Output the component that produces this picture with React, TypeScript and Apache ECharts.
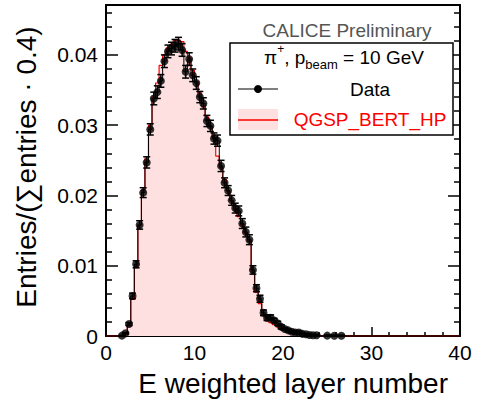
import React, { useEffect, useRef } from "react";
import * as echarts from "echarts";

// Histogram bin centres (bin width 0.4)
const binCenters = [
  1.8, 2.2, 2.6, 3.0, 3.4, 3.8, 4.2, 4.6, 5.0, 5.4, 5.8, 6.2, 6.6, 7.0, 7.4, 7.8,
  8.2, 8.6, 9.0, 9.4, 9.8, 10.2, 10.6, 11.0, 11.4, 11.8, 12.2, 12.6, 13.0, 13.4, 13.8, 14.2,
  14.6, 15.0, 15.4, 15.8, 16.2, 16.6, 17.0, 17.4, 17.8, 18.2, 18.6, 19.0, 19.4, 19.8, 20.2, 20.6,
  21.0, 21.4, 21.8, 22.2, 22.6, 23.0, 23.4, 23.8, 24.2, 24.6, 25.0, 25.4, 25.8, 26.2, 26.6, 27.0,
];
const binWidth = 0.4;

// Data (black points)
const dataValues = [
  0.00005, 0.0004, 0.0017, 0.0057, 0.0102, 0.0158, 0.0204, 0.0247, 0.0294, 0.0338, 0.0347, 0.0363, 0.0391, 0.0405, 0.0409, 0.0413,
  0.0416, 0.0407, 0.0376, 0.0394, 0.0371, 0.036, 0.034, 0.0331, 0.0306, 0.0299, 0.0281, 0.0278, 0.0242, 0.0218, 0.0207, 0.0193,
  0.0182, 0.0178, 0.016, 0.0148, 0.0137, 0.0094, 0.0068, 0.0053, 0.0033, 0.0026, 0.0026, 0.0022, 0.0018, 0.0013, 0.001, 0.0008,
  0.0006, 0.0005, 0.0005, 0.0003, 0.00025, 0.00015, 0.0001, 0.0001, 0, 0, 0.00005, 0, 0.00004, 0, 0.00003, 0,
];
const dataErrors = [
  0.00005, 0.0001, 0.0002, 0.0004, 0.0005, 0.0006, 0.0007, 0.0008, 0.0008, 0.0009, 0.0009, 0.0009, 0.0009, 0.0009, 0.0009, 0.0009,
  0.0009, 0.0009, 0.0009, 0.0009, 0.0009, 0.0009, 0.0008, 0.0008, 0.0008, 0.0008, 0.0008, 0.0008, 0.0008, 0.0007, 0.0007, 0.0007,
  0.0007, 0.0007, 0.0007, 0.0007, 0.0007, 0.0006, 0.0005, 0.0005, 0.0004, 0.0004, 0.0004, 0.0003, 0.0003, 0.0003, 0.0002, 0.0002,
  0.0002, 0.0002, 0.0002, 0.0001, 0.0001, 0.0001, 0.0001, 0.0001, 0, 0, 0.0001, 0, 0.0001, 0, 0.0001, 0,
];

// Simulation QGSP_BERT_HP (red histogram)
const mcValues = [
  0.00003, 0.0003, 0.0014, 0.0052, 0.0098, 0.0158, 0.0208, 0.0253, 0.03, 0.034, 0.036, 0.0385, 0.04, 0.041, 0.0415, 0.0421,
  0.0421, 0.0419, 0.0405, 0.0396, 0.0378, 0.0362, 0.0346, 0.0326, 0.0312, 0.0298, 0.0283, 0.0256, 0.024, 0.0223, 0.0206, 0.0192,
  0.0179, 0.017, 0.0158, 0.0146, 0.0135, 0.009, 0.0062, 0.0046, 0.003, 0.0022, 0.0019, 0.0016, 0.0013, 0.001, 0.0008, 0.0006,
  0.0004, 0.0003, 0.0003, 0.0002, 0.0001, 0.0001, 0.00005, 0.00003, 0, 0, 0, 0, 0, 0, 0, 0,
];

const xMin = 0;
const xMax = 40;
const xInterval = 10;
const yMin = 0;
const yMax = 0.0471;
const yInterval = 0.01;

const FONT = "'Liberation Sans', Arial, Helvetica, sans-serif";

function stepPoints(values: number[]): number[][] {
  const pts: number[][] = [[xMin, 0]];
  const firstLo = binCenters[0] - binWidth / 2;
  pts.push([firstLo, 0]);
  values.forEach((v, i) => {
    const lo = binCenters[i] - binWidth / 2;
    const hi = binCenters[i] + binWidth / 2;
    pts.push([lo, v], [hi, v]);
  });
  const lastHi = binCenters[binCenters.length - 1] + binWidth / 2;
  pts.push([lastHi, 0], [xMax, 0]);
  return pts;
}

export default function App() {
  const ref = useRef<HTMLDivElement>(null);

  useEffect(() => {
    if (!ref.current) return;
    const chart = echarts.init(ref.current, undefined, { renderer: "svg" });

    const points = binCenters
      .map((c, i) => [c, dataValues[i], dataErrors[i]])
      .filter((p) => p[1] > 0);

    const axisCommonX = {
      type: "value" as const,
      min: xMin,
      max: xMax,
      interval: xInterval,
      splitLine: { show: false },
    };
    const axisCommonY = {
      type: "value" as const,
      min: yMin,
      max: yMax,
      interval: yInterval,
      splitLine: { show: false },
    };

    const option: any = {
      animation: false,
      backgroundColor: "#ffffff",
      grid: {
        left: 106,
        top: 5,
        right: 18,
        bottom: 67,
        containLabel: false,
        outerBoundsMode: "none",
      },
      xAxis: [
        {
          ...axisCommonX,
          position: "bottom",
          axisLine: { show: true, onZero: false, lineStyle: { color: "#000", width: 2 } },
          axisTick: { show: true, inside: true, length: 9, lineStyle: { color: "#000", width: 1.5 } },
          minorTick: { show: true, splitNumber: 5, length: 4, lineStyle: { color: "#000", width: 1.5 } },
          axisLabel: { show: true, color: "#000", fontSize: 21, fontFamily: FONT, margin: 6 },
        },
        {
          ...axisCommonX,
          position: "top",
          axisLine: { show: true, onZero: false, lineStyle: { color: "#000", width: 2 } },
          axisTick: { show: false },
          minorTick: { show: false },
          axisLabel: { show: false },
        },
      ],
      yAxis: [
        {
          ...axisCommonY,
          position: "left",
          axisLine: { show: true, onZero: false, lineStyle: { color: "#000", width: 2 } },
          axisTick: { show: true, inside: true, length: 12, lineStyle: { color: "#000", width: 1.5 } },
          minorTick: { show: true, splitNumber: 5, length: 6, lineStyle: { color: "#000", width: 1.5 } },
          axisLabel: {
            show: true,
            color: "#000",
            fontSize: 21,
            fontFamily: FONT,
            margin: 8,
            showMaxLabel: false,
            formatter: (v: number) => (v === 0 ? "0" : v.toFixed(2)),
          },
        },
        {
          ...axisCommonY,
          position: "right",
          axisLine: { show: true, onZero: false, lineStyle: { color: "#000", width: 2 } },
          axisTick: { show: true, inside: true, length: 12, lineStyle: { color: "#000", width: 1.5 } },
          minorTick: { show: true, splitNumber: 5, length: 6, lineStyle: { color: "#000", width: 1.5 } },
          axisLabel: { show: false },
        },
      ],
      series: [
        {
          name: "QGSP_BERT_HP",
          type: "line",
          xAxisIndex: 0,
          yAxisIndex: 0,
          data: stepPoints(mcValues),
          showSymbol: false,
          symbol: "none",
          lineStyle: { color: "#ff0000", width: 1.2 },
          areaStyle: { color: "#ffe0e0", opacity: 1 },
          z: 2,
        },
        {
          name: "DataHist",
          type: "line",
          xAxisIndex: 0,
          yAxisIndex: 0,
          data: stepPoints(dataValues),
          showSymbol: false,
          symbol: "none",
          lineStyle: { color: "#000000", width: 1 },
          z: 3,
        },
        {
          name: "DataErr",
          type: "custom",
          xAxisIndex: 0,
          yAxisIndex: 0,
          data: points,
          encode: { x: 0, y: 1 },
          z: 4,
          renderItem: (params: any, api: any) => {
            const x = api.value(0);
            const y = api.value(1);
            const e = api.value(2);
            const top = api.coord([x, y + e]);
            const bot = api.coord([x, Math.max(0, y - e)]);
            const hw = 3.5;
            const st = { stroke: "#000", lineWidth: 1.5 };
            return {
              type: "group",
              children: [
                { type: "line", shape: { x1: top[0], y1: top[1], x2: bot[0], y2: bot[1] }, style: st },
                { type: "line", shape: { x1: top[0] - hw, y1: top[1], x2: top[0] + hw, y2: top[1] }, style: st },
                { type: "line", shape: { x1: bot[0] - hw, y1: bot[1], x2: bot[0] + hw, y2: bot[1] }, style: st },
              ],
            };
          },
        },
        {
          name: "Data",
          type: "scatter",
          xAxisIndex: 0,
          yAxisIndex: 0,
          data: points.map((p) => [p[0], p[1]]),
          symbol: "circle",
          symbolSize: 8,
          itemStyle: { color: "#000" },
          z: 5,
        },
      ],
      graphic: [
        // axis titles
        {
          type: "text",
          x: 448,
          y: 383,
          style: {
            text: "E weighted layer number",
            fontSize: 28,
            fontFamily: FONT,
            fill: "#000",
            textAlign: "right",
            textVerticalAlign: "middle",
          },
        },
        {
          type: "text",
          x: 26,
          y: 167,
          rotation: Math.PI / 2,
          style: {
            text: "Entries/(\u2211entries \u00b7 0.4)",
            fontSize: 28,
            fontFamily: FONT,
            fill: "#000",
            textAlign: "center",
            textVerticalAlign: "middle",
          },
        },
        // header
        {
          type: "text",
          x: 347,
          y: 30,
          z: 10,
          style: {
            text: "CALICE Preliminary",
            fontSize: 19,
            fontFamily: FONT,
            fill: "#555555",
            textAlign: "center",
            textVerticalAlign: "middle",
          },
        },
        // legend box
        {
          type: "rect",
          z: 10,
          shape: { x: 230, y: 43, width: 223, height: 92 },
          style: { fill: "#ffffff", stroke: "#000", lineWidth: 1.5 },
        },
        {
          type: "text",
          x: 344,
          y: 57,
          z: 11,
          style: {
            text: "{n|\u03c0}{sup|+}{n|, p}{sub|beam}{n| = 10 GeV}",
            fontFamily: FONT,
            fill: "#000",
            textAlign: "center",
            textVerticalAlign: "middle",
            rich: {
              n: { fontSize: 19, fontFamily: FONT, lineHeight: 28, verticalAlign: "middle", fill: "#000" },
              sup: { fontSize: 12, fontFamily: FONT, lineHeight: 12, verticalAlign: "top", fill: "#000" },
              sub: { fontSize: 13, fontFamily: FONT, lineHeight: 13, verticalAlign: "bottom", fill: "#000" },
            },
          },
        },
        {
          type: "line",
          z: 11,
          shape: { x1: 238, y1: 89, x2: 278, y2: 89 },
          style: { stroke: "#000", lineWidth: 1.2 },
        },
        {
          type: "circle",
          z: 12,
          shape: { cx: 258, cy: 89, r: 4 },
          style: { fill: "#000" },
        },
        {
          type: "text",
          x: 370,
          y: 89,
          z: 11,
          style: {
            text: "Data",
            fontSize: 19,
            fontFamily: FONT,
            fill: "#000",
            textAlign: "center",
            textVerticalAlign: "middle",
          },
        },
        {
          type: "rect",
          z: 11,
          shape: { x: 238, y: 109, width: 40, height: 21 },
          style: { fill: "#ffe0e0" },
        },
        {
          type: "line",
          z: 12,
          shape: { x1: 238, y1: 120, x2: 278, y2: 120 },
          style: { stroke: "#ff0000", lineWidth: 1.5 },
        },
        {
          type: "text",
          x: 370,
          y: 119,
          z: 11,
          style: {
            text: "QGSP_BERT_HP",
            fontSize: 19,
            fontFamily: FONT,
            fill: "#ff0000",
            textAlign: "center",
            textVerticalAlign: "middle",
          },
        },
      ],
    };

    chart.setOption(option);
    return () => {
      chart.dispose();
    };
  }, []);

  return (
    <div
      ref={ref}
      style={{ position: "fixed", left: 0, top: 0, width: 478, height: 403, background: "#fff" }}
    />
  );
}
